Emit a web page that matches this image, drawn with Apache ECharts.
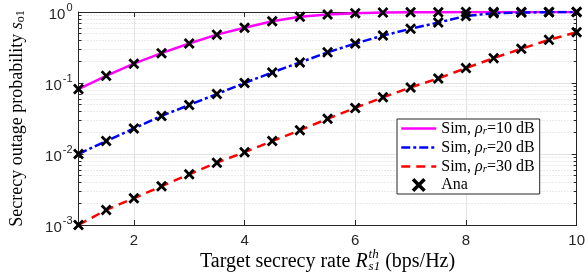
<!DOCTYPE html>
<html>
<head>
<meta charset="utf-8">
<script src="https://cdn.jsdelivr.net/npm/echarts@6/dist/echarts.min.js"></script>
<style>html,body{margin:0;padding:0;background:#fff;}#c{width:588px;height:276px;}</style>
</head>
<body>
<div id="c"></div>
<script>
var rate = [1, 1.5, 2, 2.5, 3, 3.5, 4, 4.5, 5, 5.5, 6, 6.5, 7, 7.5, 8, 8.5, 9, 9.5, 10];
var sim10 = [0.082, 0.126, 0.187, 0.263, 0.36, 0.48, 0.60, 0.74, 0.86, 0.92, 0.96, 0.98, 0.99, 0.995, 0.998, 0.999, 1.0, 1.0, 1.0];
var sim20 = [0.0100, 0.0152, 0.0229, 0.0344, 0.049, 0.070, 0.100, 0.141, 0.195, 0.27, 0.36, 0.466, 0.58, 0.71, 0.88, 0.96, 0.98, 0.995, 1.0];
var sim30 = [0.00100, 0.00163, 0.00238, 0.00352, 0.00518, 0.00755, 0.0106, 0.0152, 0.0216, 0.0313, 0.0446, 0.0628, 0.0867, 0.116, 0.162, 0.224, 0.303, 0.405, 0.519];
var seriesNames = ['Sim, ρr=10 dB', 'Sim, ρr=20 dB', 'Sim, ρr=30 dB', 'Ana'];
var xTitle = ['Target secrecy rate ', 'R', 'th', 's1', ' (bps/Hz)'];
var yTitle = ['Secrecy outage probability ', 's', 'o1'];

function pairs(ys) { return rate.map(function (x, i) { return [x, ys[i]]; }); }
var ana = [].concat(pairs(sim10), pairs(sim20), pairs(sim30));

var serif = 'Liberation Serif';
var sans = 'Liberation Sans';
var axisColor = '#262626';
var xSym = 'path://M0,1.8L1.8,0L5,3.2L8.2,0L10,1.8L6.8,5L10,8.2L8.2,10L5,6.8L1.8,10L0,8.2L3.2,5Z';
var styles = [
  {color: '#ff00ff', width: 2.5, type: 'solid'},
  {color: '#0000ff', width: 2.5, type: [9, 3, 3, 3]},
  {color: '#ff0000', width: 2.5, type: [9, 6]}
];

var chart = echarts.init(document.getElementById('c'), null, {renderer: 'canvas'});
var option = {
  backgroundColor: '#fff',
  animation: false,
  grid: {left: 65, right: 7, top: 12, bottom: 51},
  xAxis: [{
    type: 'value', min: 1, max: 10, splitNumber: 5,
    axisLine: {lineStyle: {color: axisColor, width: 1}},
    axisTick: {inside: true, length: 5, lineStyle: {color: axisColor}},
    axisLabel: {showMinLabel: false, color: axisColor, fontFamily: sans, fontSize: 15, margin: 8},
    splitLine: {show: true, lineStyle: {color: '#e3e3e3', width: 1}}
  }, {
    type: 'value', min: 1, max: 10, splitNumber: 5, position: 'top',
    axisLine: {show: true, onZero: false, lineStyle: {color: axisColor, width: 1}},
    axisTick: {inside: true, length: 5, lineStyle: {color: axisColor}},
    axisLabel: {show: false}, splitLine: {show: false}
  }],
  yAxis: [{
    type: 'log', min: 0.001, max: 1, logBase: 10,
    axisLine: {show: true, lineStyle: {color: axisColor, width: 1}},
    axisTick: {show: true, inside: true, length: 5, lineStyle: {color: axisColor}},
    minorTick: {show: true, splitNumber: 9, length: 3, lineStyle: {color: axisColor}},
    minorSplitLine: {show: true, lineStyle: {color: '#d6d6d6', type: [1, 2], width: 1}},
    axisLabel: {
      color: axisColor, margin: 6,
      formatter: function (v) { var e = Math.round(Math.log10(v)); return '{b|10}{e|' + e + '}'; },
      rich: {b: {fontFamily: sans, fontSize: 15, color: axisColor, verticalAlign: 'bottom'},
             e: {fontFamily: sans, fontSize: 11, color: axisColor, verticalAlign: 'top', padding: [0, 0, 9, 1]}}
    },
    splitLine: {show: true, lineStyle: {color: '#e3e3e3', width: 1}},
    name: '{a|' + yTitle[0] + '}{i|' + yTitle[1] + '}{s|' + yTitle[2] + '}',
    nameLocation: 'middle', nameGap: 52, nameRotate: 90,
    nameTextStyle: {rich: {
      a: {fontFamily: serif, fontSize: 18, color: '#000'},
      i: {fontFamily: serif, fontSize: 18, fontStyle: 'italic', color: '#000'},
      s: {fontFamily: serif, fontSize: 12, color: '#000', padding: [7, 0, 0, 0]}
    }}
  }, {
    type: 'log', min: 0.001, max: 1, logBase: 10, position: 'right',
    axisLine: {show: true, onZero: false, lineStyle: {color: axisColor, width: 1}},
    axisTick: {show: true, inside: true, length: 5, lineStyle: {color: axisColor}},
    minorTick: {show: true, splitNumber: 9, length: 3, lineStyle: {color: axisColor}},
    axisLabel: {show: false}, splitLine: {show: false}
  }],
  legend: {
    orient: 'vertical', left: 397, top: 119, padding: [1, 5, 1, 3],
    itemWidth: 35, itemHeight: 14, itemGap: 2,
    backgroundColor: '#fff', borderColor: axisColor, borderWidth: 1,
    data: [
      {name: seriesNames[0], itemStyle: {opacity: 0}, lineStyle: styles[0]},
      {name: seriesNames[1], itemStyle: {opacity: 0}, lineStyle: styles[1]},
      {name: seriesNames[2], itemStyle: {opacity: 0}, lineStyle: styles[2]},
      {name: seriesNames[3]}
    ],
    formatter: function (n) {
      if (n === 'Ana') return '{t|Ana}';
      var m = n.match(/=(.*)$/);
      return '{t|Sim, }{i|ρ}{s|r}{t|=' + m[1] + '}';
    },
    textStyle: {rich: {
      t: {fontFamily: serif, fontSize: 16, color: '#000', lineHeight: 16},
      i: {fontFamily: serif, fontSize: 16, fontStyle: 'italic', color: '#000', lineHeight: 16},
      s: {fontFamily: serif, fontSize: 11, fontStyle: 'italic', color: '#000', lineHeight: 16, padding: [6, 0, 0, 0]}
    }}
  },
  series: [
    {name: seriesNames[0], type: 'line', data: pairs(sim10), showSymbol: false, symbol: 'none',
     lineStyle: styles[0], itemStyle: {color: styles[0].color}, z: 3},
    {name: seriesNames[1], type: 'line', data: pairs(sim20), showSymbol: false, symbol: 'none',
     lineStyle: styles[1], itemStyle: {color: styles[1].color}, z: 3},
    {name: seriesNames[2], type: 'line', data: pairs(sim30), showSymbol: false, symbol: 'none',
     lineStyle: styles[2], itemStyle: {color: styles[2].color}, z: 3},
    {name: seriesNames[3], type: 'scatter', data: ana, symbol: xSym, symbolSize: 11,
     itemStyle: {color: '#000', opacity: 1}, z: 4}
  ]
};
chart.setOption(option);

// x-axis title as real text with stacked super/subscript
var ctx = document.createElement('canvas').getContext('2d');
function tw(font, s) { ctx.font = font; return ctx.measureText(s).width; }
var fN = '20px "' + serif + '"';
var fI = 'italic 20px "' + serif + '"';
var fS = 'italic 13px "' + serif + '"';
var w0 = tw(fN, xTitle[0]), wR = tw(fI, xTitle[1]);
var wSS = Math.max(tw(fS, xTitle[2]), tw(fS, xTitle[3]));
var w4 = tw(fN, xTitle[4]);
var total = w0 + wR + 1 + wSS + w4;
var pt = chart.convertToPixel({xAxisIndex: 0, yAxisIndex: 0}, [5.5, 0.001]);
var x0 = pt[0] - total / 2, by = pt[1] + 37;
chart.setOption({graphic: [
  {type: 'text', x: x0, y: by, style: {text: xTitle[0], font: fN, fill: '#000', align: 'left', verticalAlign: 'middle'}},
  {type: 'text', x: x0 + w0, y: by, style: {text: xTitle[1], font: fI, fill: '#000', align: 'left', verticalAlign: 'middle'}},
  {type: 'text', x: x0 + w0 + wR + 1, y: by - 7, style: {text: xTitle[2], font: fS, fill: '#000', align: 'left', verticalAlign: 'middle'}},
  {type: 'text', x: x0 + w0 + wR + 1, y: by + 5, style: {text: xTitle[3], font: fS, fill: '#000', align: 'left', verticalAlign: 'middle'}},
  {type: 'text', x: x0 + w0 + wR + 1 + wSS, y: by, style: {text: xTitle[4], font: fN, fill: '#000', align: 'left', verticalAlign: 'middle'}}
]});
</script>
</body>
</html>
